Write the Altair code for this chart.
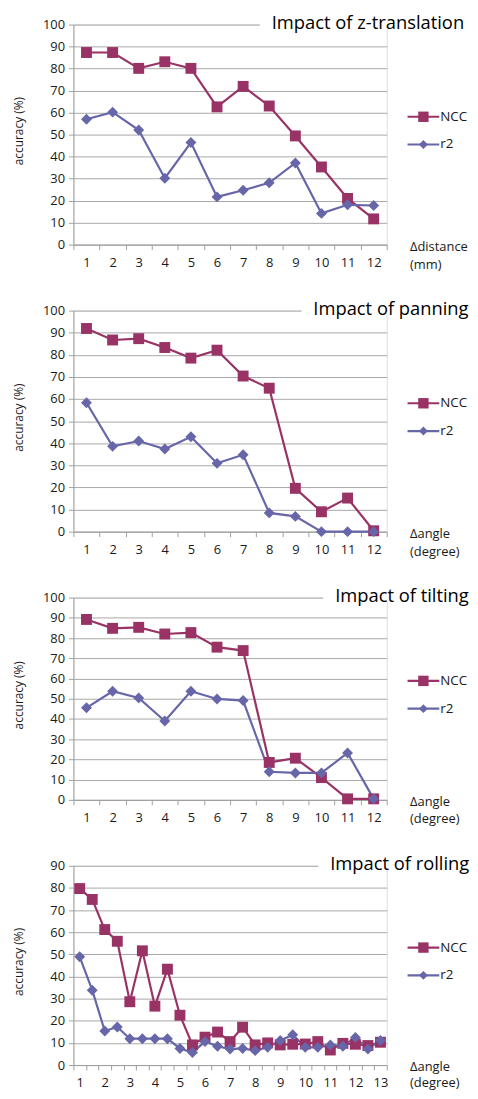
import altair as alt
import pandas as pd

# ---------------- data ----------------
x12 = list(range(1, 13))
z_ncc = [87.3, 87.3, 80.1, 83.1, 80.1, 62.6, 71.9, 63.0, 49.4, 35.3, 21.0, 11.7]
z_r2 = [57.0, 60.2, 52.1, 30.2, 46.4, 21.7, 24.7, 28.1, 37.1, 14.2, 18.1, 17.8]

pan_ncc = [91.9, 86.7, 87.3, 83.3, 78.5, 82.1, 70.4, 64.9, 19.6, 9.0, 15.2, 0.4]
pan_r2 = [58.3, 38.6, 41.0, 37.4, 42.9, 30.9, 34.8, 8.5, 6.9, 0.0, 0.0, 0.0]

tilt_ncc = [89.2, 84.8, 85.3, 82.0, 82.7, 75.5, 73.8, 18.5, 20.6, 11.0, 0.5, 0.5]
tilt_r2 = [45.5, 53.7, 50.4, 39.0, 53.7, 49.9, 49.1, 13.9, 13.3, 13.3, 23.2, 0.5]

x_roll = [1, 1.5, 2, 2.5, 3, 3.5, 4, 4.5, 5, 5.5, 6, 6.5, 7, 7.5, 8, 8.5,
          9, 9.5, 10, 10.5, 11, 11.5, 12, 12.5, 13]
roll_ncc = [79.7, 74.8, 61.2, 55.9, 28.6, 51.6, 26.6, 43.3, 22.5, 9.1, 12.6, 14.9,
            10.6, 17.1, 9.1, 10.0, 9.1, 9.4, 9.5, 10.6, 6.8, 9.8, 9.4, 8.8, 10.3]
roll_r2 = [48.9, 33.8, 15.4, 17.2, 11.9, 11.9, 11.9, 11.9, 7.5, 5.7, 10.6, 8.5,
           7.2, 7.5, 6.5, 8.0, 11.1, 13.7, 8.0, 8.0, 9.1, 8.5, 12.5, 7.2, 11.1]

series_names = ["NCC", "r2"]
colors = ["#993366", "#6666a8"]
shapes = ["square", "diamond"]

FONT = "Open Sans"
AXIS_GRAY = "#a0a0a0"
TXT = "#1a1a1a"
W = 316


def panel(xs, ncc, r2, ymax, h, title, xtitle, title_left, line_h, rolling=False):
    rows = []
    for name, vals in zip(series_names, [ncc, r2]):
        for xv, v in zip(xs, vals):
            rows.append({"x": xv, "value": v, "series": name})
    df = pd.DataFrame(rows)

    x_axis = alt.Axis(
        title=xtitle, titleX=W + 23, titleY=-4, titleAlign="left",
        titleBaseline="top", titleAngle=0, titleFontSize=13,
        titleFontWeight="normal", titleLineHeight=line_h, titleColor=TXT,
        titleFont=FONT,
        labelAngle=0, labelFontSize=13, labelColor=TXT, labelFont=FONT,
        labelPadding=7, tickBand="extent", tickSize=5, tickColor=AXIS_GRAY,
        domainColor=AXIS_GRAY, grid=False, labelOverlap=False,
        labelExpr=("datum.value % 1 == 0 ? datum.label : ''" if rolling else "datum.label"),
    )
    y_axis = alt.Axis(
        values=list(range(0, ymax + 1, 10)), grid=True, gridColor="#a8a8a8",
        domainColor=AXIS_GRAY, tickColor=AXIS_GRAY, tickSize=5, labelOverlap=False,
        labelFontSize=13, labelColor=TXT, labelFont=FONT, labelPadding=4,
        title="accuracy (%)", titleFontSize=12, titleFontWeight="normal",
        titleColor=TXT, titleFont=FONT, titleX=-55, titleY=h / 2 - 4,
        titleAngle=270, titleAlign="center", titleBaseline="middle",
    )
    xenc = alt.X("x:O", scale=alt.Scale(type="band", paddingInner=0, paddingOuter=0), axis=x_axis)
    yenc = alt.Y("value:Q", scale=alt.Scale(domain=[0, ymax], nice=False), axis=y_axis)
    cenc = alt.Color("series:N", scale=alt.Scale(domain=series_names, range=colors), legend=None)
    senc = alt.Shape("series:N", scale=alt.Scale(domain=series_names, range=shapes), legend=None)

    base = alt.Chart(df)
    lines = base.mark_line(strokeWidth=2.2).encode(x=xenc, y=yenc, color=cenc, detail="series:N")
    pts = base.mark_point(filled=True, size=121, opacity=1).encode(
        x=xenc, y=yenc, color=cenc, shape=senc)

    one = pd.DataFrame({"k": [0]})
    cover = alt.Chart(one).mark_rect(color="white").encode(
        x=alt.value(title_left - 12), x2=alt.value(W + 2), y=alt.value(-4), y2=alt.value(4))
    ttl = alt.Chart(one).mark_text(align="left", baseline="alphabetic", fontSize=18.5,
                                   font=FONT, color="black").encode(
        x=alt.value(title_left), y=alt.value(4), text=alt.value(title))

    layers = [lines, pts, cover, ttl]
    yc = h / 2 - 4
    for i, (name, col, shp) in enumerate(zip(series_names, colors, shapes)):
        yy = yc - 14 + 28 * i
        layers.append(alt.Chart(one).mark_rule(color=col, strokeWidth=2.2).encode(
            x=alt.value(W + 21), x2=alt.value(W + 53), y=alt.value(yy)))
        layers.append(alt.Chart(one).mark_point(filled=True, opacity=1, color=col, shape=shp,
                                                size=110 if shp == "square" else 80).encode(
            x=alt.value(W + 37), y=alt.value(yy)))
        layers.append(alt.Chart(one).mark_text(align="left", baseline="middle", fontSize=13.5,
                                               font=FONT, color=TXT).encode(
            x=alt.value(W + 54), y=alt.value(yy), text=alt.value(name)))

    return alt.layer(*layers).properties(width=W, height=h)


p1 = panel(x12, z_ncc, z_r2, 100, 222, "Impact of z-translation", ["Δdistance", "(mm)"], 200, 18)
p2 = panel(x12, pan_ncc, pan_r2, 100, 223, "Impact of panning", ["Δangle", "(degree)"], 242, 18)
p3 = panel(x12, tilt_ncc, tilt_r2, 100, 204, "Impact of tilting", ["Δangle", "(degree)"], 264, 17)
p4 = panel(x_roll, roll_ncc, roll_r2, 90, 201, "Impact of rolling", ["Δangle", "(degree)"], 259, 16,
           rolling=True)

chart = alt.vconcat(p1, p2, p3, p4, spacing=66.5, bounds="flush").properties(
    padding={"left": 4, "top": 0, "right": 0, "bottom": 0}
).configure_view(stroke=None).configure(font=FONT)

chart.save("out.html", embed_options={"renderer": "svg", "actions": False})
